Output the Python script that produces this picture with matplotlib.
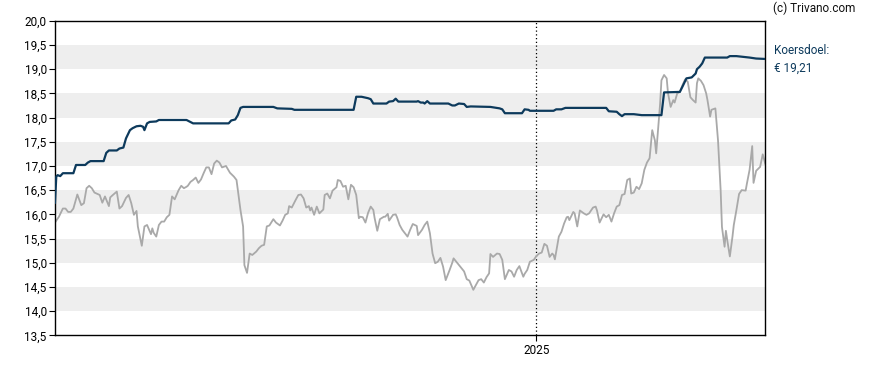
import datetime as dt

import matplotlib
matplotlib.use("Agg")
import matplotlib.dates as mdates
import matplotlib.pyplot as plt
import matplotlib.ticker as mticker

plt.rcParams["font.family"] = ["Roboto", "DejaVu Sans"]

START = dt.date(2024, 1, 1)

# koers (grijs): dagen sinds START, waarde in euro
price_day = [
    0, 3, 6, 8, 10, 12, 14, 17, 20, 22, 24, 26, 28, 30, 34, 36, 38, 41, 42, 44,
    47, 49, 51, 54, 56, 58, 60, 62, 63, 66, 68, 70, 73, 74, 75, 77, 79, 81, 83, 85,
    87, 89, 91, 94, 96, 98, 100, 101, 103, 105, 107, 109, 111, 113, 115, 117, 119, 121, 123, 125,
    127, 130, 133, 136, 138, 141, 143, 144, 146, 148, 150, 153, 155, 157, 159, 161, 163, 166, 168, 171,
    173, 175, 177, 178, 180, 183, 185, 187, 189, 191, 193, 194, 195, 197, 199, 201, 204, 205, 207, 209,
    211, 214, 215, 217, 219, 221, 223, 225, 227, 229, 231, 232, 234, 236, 238, 240, 242, 243, 245, 247,
    250, 251, 253, 254, 257, 259, 260, 262, 264, 266, 268, 270, 272, 275, 276, 279, 281, 283, 285, 287,
    289, 291, 293, 295, 297, 300, 302, 303, 306, 308, 311, 313, 315, 318, 320, 322, 324, 326, 328, 330,
    331, 333, 336, 338, 340, 342, 345, 347, 349, 351, 353, 356, 357, 359, 361, 364, 366, 368, 370, 372,
    374, 376, 378, 379, 380, 383, 385, 387, 389, 390, 391, 394, 395, 397, 399, 402, 404, 406, 409, 411,
    412, 414, 417, 419, 421, 423, 425, 427, 429, 431, 433, 435, 437, 438, 440, 442, 444, 446, 448, 450,
    452, 454, 456, 457, 459, 460, 461, 463, 465, 466, 468, 470, 471, 473, 475, 477, 479, 481, 483, 485,
    487, 488, 489, 491, 493, 495, 496, 498, 499, 502, 504, 506, 507, 509, 510, 511, 513, 515, 516, 518,
    520, 522, 525, 526, 528, 530, 531, 533, 536, 538, 540, 541,
]
price_val = [
    15.83, 15.95, 16.12, 16.12, 16.05, 16.05, 16.12, 16.41, 16.19, 16.23, 16.54, 16.59, 16.54, 16.45, 16.40, 16.24, 16.37, 16.17, 16.35, 16.40,
    16.47, 16.12, 16.17, 16.34, 16.40, 16.23, 15.99, 16.07, 15.75, 15.35, 15.75, 15.78, 15.59, 15.71, 15.62, 15.54, 15.78, 15.85, 15.85, 15.94,
    15.99, 16.37, 16.31, 16.50, 16.59, 16.54, 16.57, 16.59, 16.67, 16.71, 16.76, 16.65, 16.72, 16.85, 16.97, 16.97, 16.83, 17.05, 17.11, 17.07,
    16.97, 17.00, 16.86, 16.78, 16.71, 16.09, 15.75, 14.95, 14.79, 15.19, 15.16, 15.23, 15.30, 15.35, 15.37, 15.75, 15.77, 15.90, 15.83, 15.77,
    15.87, 15.99, 16.02, 16.17, 16.14, 16.30, 16.40, 16.41, 16.33, 16.14, 16.17, 16.08, 16.14, 15.99, 16.16, 16.02, 16.10, 16.40, 16.43, 16.33,
    16.49, 16.56, 16.71, 16.69, 16.57, 16.59, 16.31, 16.61, 16.56, 16.40, 15.92, 15.95, 15.94, 15.83, 16.03, 16.16, 16.09, 15.92, 15.66, 15.90,
    15.95, 15.95, 16.01, 15.87, 15.99, 16.00, 15.94, 15.78, 15.68, 15.61, 15.54, 15.68, 15.80, 15.76, 15.57, 15.68, 15.78, 15.85, 15.61, 15.19,
    14.99, 15.02, 15.10, 14.92, 14.64, 14.85, 15.00, 15.09, 14.99, 14.92, 14.82, 14.66, 14.63, 14.44, 14.54, 14.64, 14.66, 14.59, 14.70, 14.78,
    15.18, 15.12, 15.19, 15.18, 15.06, 14.66, 14.85, 14.82, 14.71, 14.85, 14.93, 14.71, 14.77, 14.85, 15.02, 15.06, 15.14, 15.19, 15.21, 15.39,
    15.35, 15.12, 15.19, 15.16, 15.07, 15.54, 15.64, 15.81, 15.94, 15.95, 15.88, 16.05, 16.02, 15.75, 16.08, 16.02, 15.99, 16.02, 16.14, 16.16,
    16.08, 15.83, 16.00, 15.94, 15.99, 15.85, 16.02, 16.16, 16.19, 16.40, 16.42, 16.71, 16.74, 16.43, 16.45, 16.57, 16.52, 16.64, 16.92, 17.07,
    17.16, 17.74, 17.53, 17.26, 17.95, 18.29, 18.77, 18.88, 18.81, 18.50, 18.22, 18.36, 18.31, 18.50, 18.53, 18.67, 18.79, 18.74, 18.42, 18.36,
    18.31, 18.71, 18.81, 18.76, 18.67, 18.50, 18.36, 18.02, 18.16, 18.19, 17.53, 16.50, 15.74, 15.33, 15.66, 15.47, 15.13, 15.54, 15.78, 16.09,
    16.42, 16.50, 16.49, 16.64, 16.92, 17.41, 16.65, 16.90, 16.98, 17.24, 17.04, 17.05,
]

# koersdoel (donkerblauw)
target_day = [
    0, 1, 2, 4, 6, 14, 16, 23, 25, 27, 37, 39, 41, 47, 49, 52, 54, 57, 59, 62,
    65, 67, 68, 70, 72, 77, 79, 100, 105, 132, 134, 137, 139, 141, 143, 166, 169, 180, 182, 227,
    229, 233, 238, 240, 242, 252, 254, 257, 259, 261, 275, 276, 278, 280, 281, 283, 285, 299, 302, 304,
    307, 311, 313, 316, 331, 338, 340, 342, 355, 357, 360, 361, 379, 381, 385, 388, 419, 421, 427, 429,
    431, 433, 440, 446, 461, 463, 475, 477, 480, 484, 487, 488, 490, 492, 494, 511, 513, 518, 528, 533,
    541,
]
target_val = [
    16.24, 16.78, 16.81, 16.79, 16.85, 16.85, 17.02, 17.02, 17.07, 17.10, 17.10, 17.27, 17.32, 17.32, 17.36, 17.38, 17.57, 17.74, 17.78, 17.82,
    17.83, 17.81, 17.74, 17.88, 17.91, 17.92, 17.95, 17.95, 17.88, 17.88, 17.94, 17.96, 18.05, 18.20, 18.22, 18.22, 18.19, 18.18, 18.16, 18.16,
    18.43, 18.43, 18.40, 18.38, 18.29, 18.29, 18.33, 18.34, 18.39, 18.33, 18.33, 18.34, 18.31, 18.31, 18.29, 18.34, 18.29, 18.29, 18.25, 18.25,
    18.29, 18.28, 18.22, 18.23, 18.22, 18.19, 18.17, 18.09, 18.09, 18.17, 18.16, 18.14, 18.14, 18.17, 18.17, 18.20, 18.20, 18.13, 18.12, 18.07,
    18.03, 18.07, 18.07, 18.05, 18.05, 18.52, 18.53, 18.64, 18.81, 18.83, 18.91, 19.00, 19.05, 19.12, 19.24, 19.24, 19.27, 19.27, 19.24, 19.22,
    19.21,
]

target_label = "Koersdoel:\n€ 19,21"
band_lows = [14.0, 15.0, 16.0, 17.0, 18.0, 19.0]

NAVY = "#0d3a5c"
GREY = "#a9a9a9"


def to_dates(days):
    return [START + dt.timedelta(days=d) for d in days]


fig = plt.figure(figsize=(8.88, 3.70), dpi=100)
ax = fig.add_axes([0.0619, 0.0938, 0.80, 0.850])

for lo in band_lows:
    ax.axhspan(lo, lo + 0.5, color="#eeeeee", lw=0, zorder=0)

ax.axvline(dt.date(2025, 1, 1), color="black", lw=0.9, ls=(0, (1, 2)), zorder=1)

ax.plot(to_dates(price_day), price_val, color=GREY, lw=1.3, zorder=2)
ax.plot(to_dates(target_day), target_val, color=NAVY, lw=1.6, zorder=3)

ax.set_xlim(START, START + dt.timedelta(days=540))
ax.set_ylim(13.5, 20.0)
ax.yaxis.set_major_locator(mticker.MultipleLocator(0.5))
ax.yaxis.set_major_formatter(mticker.FuncFormatter(lambda v, _: f"{v:.1f}".replace(".", ",")))
ax.set_xticks([dt.date(2025, 1, 1)])
ax.xaxis.set_major_formatter(mdates.DateFormatter("%Y"))
ax.tick_params(axis="both", labelsize=8.5, length=4, width=0.8, colors="black", pad=2)

for sp in ax.spines.values():
    sp.set_color("black")
    sp.set_linewidth(1.0)

fig.text(773 / 888, 1 - 8 / 370, "(c) Trivano.com", fontsize=8.5, color="#111111",
         ha="left", va="center")
fig.text(774 / 888, 1 - 59 / 370, target_label, fontsize=8.5, color=NAVY,
         ha="left", va="center", linespacing=1.5)

fig.savefig("out.png", dpi=100)
